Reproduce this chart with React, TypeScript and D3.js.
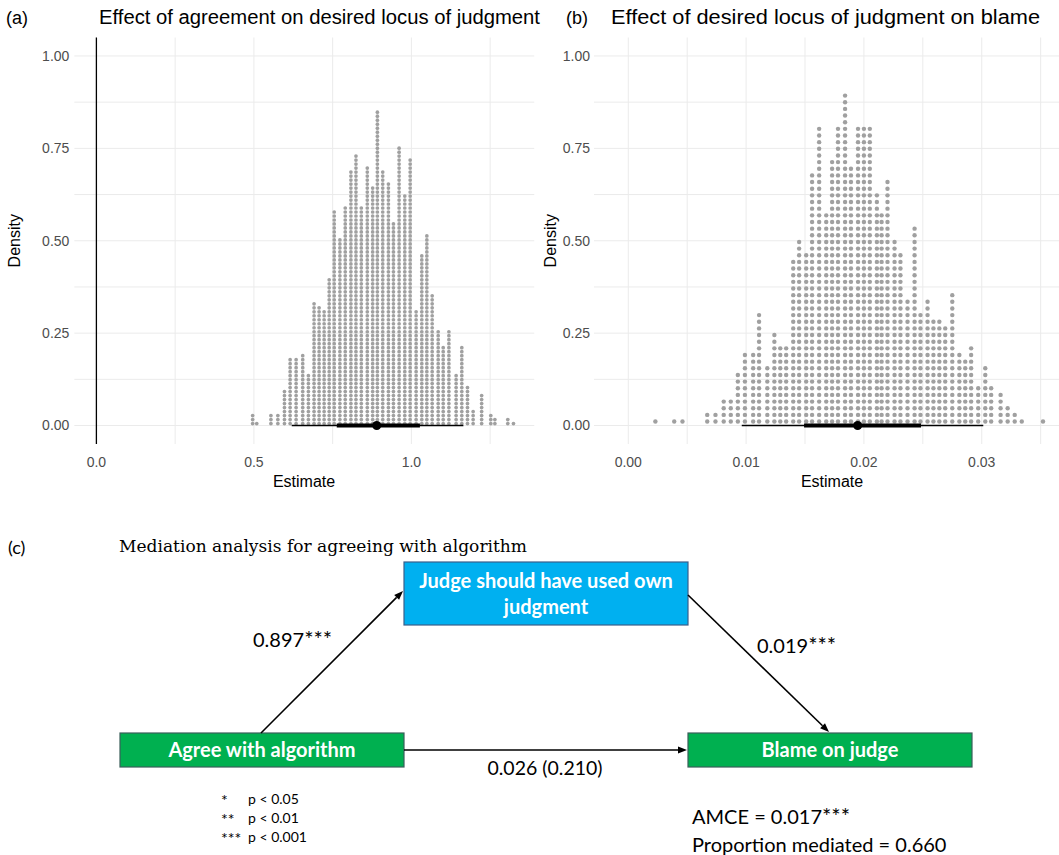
import React from "react";
import * as d3 from "d3";

// Panel (a): quantile dotplot of simulated estimates (bin centres and dot counts)
const estA = [0.496, 0.509, 0.554, 0.576, 0.597, 0.615, 0.634, 0.655, 0.673, 0.691, 0.707, 0.723, 0.739, 0.755, 0.773, 0.790, 0.808, 0.824, 0.841, 0.860, 0.877, 0.892, 0.909, 0.927, 0.943, 0.961, 0.979, 0.996, 1.015, 1.033, 1.049, 1.066, 1.085, 1.101, 1.119, 1.142, 1.160, 1.178, 1.196, 1.223, 1.252, 1.265, 1.306, 1.324];
const countA = [3, 1, 3, 3, 9, 17, 17, 18, 13, 31, 30, 29, 37, 54, 47, 55, 64, 68, 55, 65, 60, 79, 64, 61, 51, 70, 58, 67, 29, 43, 48, 33, 24, 20, 24, 13, 20, 10, 4, 8, 3, 2, 2, 1];
const intervalA = { lo95: 0.62, lo66: 0.763, median: 0.89, hi66: 1.027, hi95: 1.165 };
const xTicksA = [0, 0.5, 1.0];
const xMinorA = [0.25, 0.75, 1.25];

// Panel (b)
const estB = [0.0023, 0.0039, 0.0046, 0.0067, 0.0074, 0.0081, 0.0087, 0.0093, 0.0099, 0.0106, 0.0111, 0.0118, 0.0124, 0.0129, 0.0134, 0.0140, 0.0145, 0.0151, 0.0156, 0.0162, 0.0168, 0.0173, 0.0178, 0.0184, 0.0189, 0.0195, 0.0200, 0.0205, 0.0211, 0.0215, 0.0220, 0.0226, 0.0231, 0.0237, 0.0243, 0.0248, 0.0254, 0.0259, 0.0264, 0.0269, 0.0275, 0.0281, 0.0286, 0.0291, 0.0297, 0.0303, 0.0308, 0.0316, 0.0322, 0.0328, 0.0334, 0.0352];
const countB = [1, 1, 1, 2, 2, 4, 4, 8, 11, 11, 17, 9, 14, 12, 12, 25, 28, 26, 38, 45, 32, 40, 45, 50, 39, 45, 45, 45, 35, 32, 37, 28, 26, 19, 30, 17, 19, 16, 16, 15, 20, 11, 10, 12, 6, 9, 6, 5, 3, 2, 1, 1];
const intervalB = { lo95: 0.00963, lo66: 0.01492, median: 0.01947, hi66: 0.02485, hi95: 0.03013 };
const xTicksB = [0, 0.01, 0.02, 0.03];
const xMinorB = [0.005, 0.015, 0.025, 0.035];

const yTicks = [0, 0.25, 0.5, 0.75, 1.0];
const yMinor = [0.125, 0.375, 0.625, 0.875];

// Mediation diagram text
const titleC = "Mediation analysis for agreeing with algorithm";
const nodeMediator = ["Judge should have used own", "judgment"];
const nodeTreatment = "Agree with algorithm";
const nodeOutcome = "Blame on judge";
const pathA = ["0.897", "***"];
const pathB = ["0.019", "***"];
const pathDirect = "0.026 (0.210)";
const amce = ["AMCE = 0.017", "***"];
const propMed = "Proportion mediated = 0.660";
const sigStars = ["*", "**", "***"];
const sigLabels = ["p < 0.05", "p < 0.01", "p < 0.001"];

const SANS = "'Liberation Sans', Arial, sans-serif";
const CAL = "Lato, 'Open Sans', sans-serif";
const GRID = "#ebebeb";
const DOT = "#a0a0a0";

type PanelProps = {
  est: number[];
  count: number[];
  interval: { lo95: number; lo66: number; median: number; hi66: number; hi95: number };
  xDomain: [number, number];
  xRange: [number, number];
  xTicks: number[];
  xMinor: number[];
  fmt: (v: number) => string;
  dotUnit: number;
  dotOffset: number;
  r: number;
  vline: boolean;
  title: string;
  titleLen: number;
  tag: string;
  tagX: number;
  titleX: number;
  labelGap: number;
  densityX: number;
  estimateX: number;
};

function DotPanel(p: PanelProps) {
  const x = d3.scaleLinear().domain(p.xDomain).range(p.xRange);
  const y = d3.scaleLinear().domain([-0.05, 1.05]).range([444, 37.5]);
  const [x0, x1] = p.xRange;
  const dots: { cx: number; cy: number }[] = [];
  p.est.forEach((v, i) => {
    for (let k = 0; k < p.count[i]; k++) {
      dots.push({ cx: x(v), cy: y((k + p.dotOffset) * p.dotUnit) });
    }
  });
  return (
    <g>
      <text x={p.tagX} y={24} fontFamily={SANS} fontSize={18} fill="#000">{p.tag}</text>
      <text x={p.titleX} y={24} fontFamily={SANS} fontSize={20} fill="#000" textLength={p.titleLen} lengthAdjust="spacingAndGlyphs">{p.title}</text>
      {[...yMinor, ...yTicks].map((t) => (
        <line key={"h" + t} x1={x0} x2={x1} y1={y(t)} y2={y(t)} stroke={GRID} strokeWidth={1} />
      ))}
      {[...p.xMinor, ...p.xTicks].map((t) => (
        <line key={"v" + t} x1={x(t)} x2={x(t)} y1={y(-0.05)} y2={y(1.05)} stroke={GRID} strokeWidth={1} />
      ))}
      {p.vline && (
        <line x1={x(0)} x2={x(0)} y1={y(-0.05)} y2={y(1.05)} stroke="#000" strokeWidth={1.3} />
      )}
      {dots.map((d, i) => (
        <circle key={i} cx={d.cx} cy={d.cy} r={p.r} fill={DOT} />
      ))}
      <line x1={x(p.interval.lo95)} x2={x(p.interval.hi95)} y1={y(0)} y2={y(0)} stroke="#000" strokeWidth={1.4} />
      <line x1={x(p.interval.lo66)} x2={x(p.interval.hi66)} y1={y(0)} y2={y(0)} stroke="#000" strokeWidth={4} />
      <circle cx={x(p.interval.median)} cy={y(0)} r={4.5} fill="#000" />
      {yTicks.map((t) => (
        <text key={"yl" + t} x={x0 - p.labelGap} y={y(t)} dy="0.35em" textAnchor="end" fontFamily={SANS} fontSize={14} fill="#4d4d4d">
          {d3.format(".2f")(t)}
        </text>
      ))}
      {p.xTicks.map((t) => (
        <text key={"xl" + t} x={x(t)} y={467} textAnchor="middle" fontFamily={SANS} fontSize={14} fill="#4d4d4d">
          {p.fmt(t)}
        </text>
      ))}
      <text x={p.estimateX} y={487} textAnchor="middle" fontFamily={SANS} fontSize={16} fill="#000">Estimate</text>
      <text transform={`translate(${p.densityX},${(y(-0.05) + y(1.05)) / 2}) rotate(-90)`} textAnchor="middle" fontFamily={SANS} fontSize={16} fill="#000">
        Density
      </text>
    </g>
  );
}

function Arrow({ x1, y1, x2, y2 }: { x1: number; y1: number; x2: number; y2: number }) {
  const ang = Math.atan2(y2 - y1, x2 - x1);
  const L = 9, W = 3.5;
  const bx = x2 - L * Math.cos(ang), by = y2 - L * Math.sin(ang);
  const px = -Math.sin(ang) * W, py = Math.cos(ang) * W;
  return (
    <g>
      <line x1={x1} y1={y1} x2={bx} y2={by} stroke="#000" strokeWidth={1.6} />
      <path d={`M${x2},${y2} L${bx + px},${by + py} L${bx - px},${by - py} Z`} fill="#000" />
    </g>
  );
}

function Starred({ x, y, parts, anchor }: { x: number; y: number; parts: string[]; anchor?: string }) {
  return (
    <text x={x} y={y} textAnchor={anchor || "start"} fontFamily={CAL} fontSize={20} fill="#000">
      {parts[0]}
      {parts[1] && <tspan fontSize={22}>{parts[1]}</tspan>}
    </text>
  );
}

export default function App() {
  const med = { x: 404, y: 562, w: 284, h: 63 };
  const trt = { x: 120, y: 733, w: 284, h: 34 };
  const out = { x: 688, y: 733, w: 284, h: 34 };
  return (
    <svg width={1059} height={855} style={{ position: "absolute", left: 0, top: 0, background: "#fff" }}>
      <rect width={1059} height={855} fill="#fff" />
      <DotPanel
        est={estA} count={countA} interval={intervalA}
        xDomain={[-0.07, 1.39]} xRange={[74.35, 534.25]}
        xTicks={xTicksA} xMinor={xMinorA} fmt={d3.format(".1f")}
        dotUnit={0.0108} dotOffset={0.5} r={1.85} vline={true}
        title="Effect of agreement on desired locus of judgment" titleLen={441} tag="(a)" tagX={6} titleX={99}
        labelGap={5} densityX={20} estimateX={304}
      />
      <DotPanel
        est={estB} count={countB} interval={intervalB}
        xDomain={[-0.00291, 0.0366]} xRange={[594, 1059.5]}
        xTicks={xTicksB} xMinor={xMinorB} fmt={d3.format(".2f")}
        dotUnit={0.018} dotOffset={0.6} r={2.2} vline={false}
        title="Effect of desired locus of judgment on blame" titleLen={429} tag="(b)" tagX={566} titleX={611}
        labelGap={4} densityX={556} estimateX={832}
      />

      {/* (c) mediation diagram */}
      <text x={8} y={554} fontFamily={CAL} fontSize={18} fill="#000">(c)</text>
      <text x={119} y={552} fontFamily="'DejaVu Serif', 'Liberation Serif', serif" fontSize={17.5} fill="#000" textLength={408} lengthAdjust="spacingAndGlyphs">
        {titleC}
      </text>

      <rect x={med.x} y={med.y} width={med.w} height={med.h} fill="#00b0f0" stroke="#3a5f8a" strokeWidth={1.2} />
      <text x={med.x + med.w / 2} y={588} textAnchor="middle" fontFamily={CAL} fontWeight={700} fontSize={20} fill="#fff">{nodeMediator[0]}</text>
      <text x={med.x + med.w / 2} y={614} textAnchor="middle" fontFamily={CAL} fontWeight={700} fontSize={20} fill="#fff">{nodeMediator[1]}</text>

      <rect x={trt.x} y={trt.y} width={trt.w} height={trt.h} fill="#00b050" stroke="#3a5f5a" strokeWidth={1.2} />
      <text x={trt.x + trt.w / 2} y={757} textAnchor="middle" fontFamily={CAL} fontWeight={700} fontSize={20} fill="#fff">{nodeTreatment}</text>

      <rect x={out.x} y={out.y} width={out.w} height={out.h} fill="#00b050" stroke="#3a5f5a" strokeWidth={1.2} />
      <text x={out.x + out.w / 2} y={757} textAnchor="middle" fontFamily={CAL} fontWeight={700} fontSize={20} fill="#fff">{nodeOutcome}</text>

      <Arrow x1={261} y1={733} x2={403} y2={591} />
      <Arrow x1={688} y1={595} x2={829} y2={732} />
      <Arrow x1={404} y1={750} x2={687} y2={750} />

      <Starred x={253} y={647} parts={pathA} />
      <Starred x={757} y={653} parts={pathB} />
      <text x={545} y={775} textAnchor="middle" fontFamily={CAL} fontSize={19.5} fill="#000">{pathDirect}</text>
      <Starred x={692} y={824} parts={amce} />
      <text x={692} y={852} fontFamily={CAL} fontSize={20} fill="#000">{propMed}</text>

      {sigStars.map((s, i) => (
        <g key={s}>
          <text x={221} y={806 + i * 19} fontFamily={CAL} fontSize={16} fill="#000">{s}</text>
          <text x={248} y={804 + i * 19} fontFamily={CAL} fontSize={14} fill="#000">{sigLabels[i]}</text>
        </g>
      ))}
    </svg>
  );
}
